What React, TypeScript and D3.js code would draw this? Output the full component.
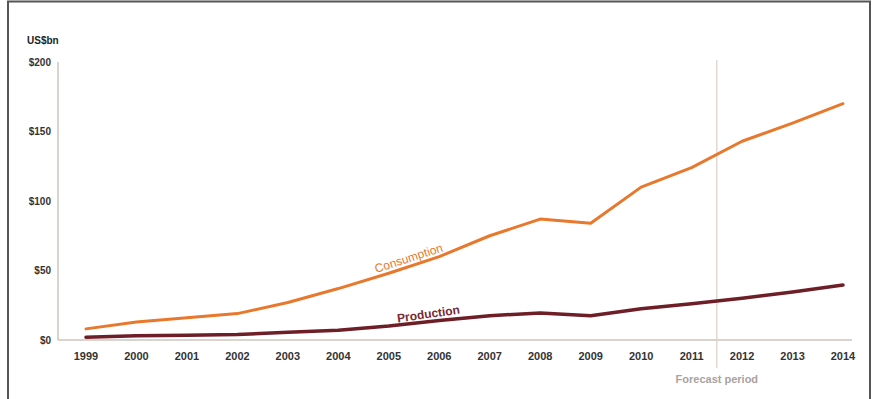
import React from "react";
import * as d3 from "d3";

const years = ["1999","2000","2001","2002","2003","2004","2005","2006","2007","2008","2009","2010","2011","2012","2013","2014"];
const consumption = [8, 13, 16, 19, 27, 37, 48, 60, 75, 87, 84, 110, 124, 143, 156, 170];
const production = [2, 3, 3.5, 4, 5.5, 7, 10, 14, 17.5, 19.5, 17.5, 22.5, 26, 30, 34.5, 39.5];
const yTicks = [0, 50, 100, 150, 200];
const forecastStart = 12.5;

export default function App() {
  const W = 875, H = 399;
  const x = d3.scaleLinear().domain([0, 15]).range([86, 843]);
  const y = d3.scaleLinear().domain([0, 200]).range([340, 62]);
  const line = d3.line<number>().x((_, i) => x(i)).y((d) => y(d));
  const font = "Liberation Sans, Arial, sans-serif";
  return (
    <svg width={W} height={H} style={{ position: "absolute", left: 0, top: 0, background: "#fff" }} fontFamily={font}>
      <rect x={0} y={0} width={W} height={H} fill="#fff" />
      <path d={`M8,${H} L8,1.5 L870,1.5 L870,${H}`} fill="none" stroke="#555" strokeWidth={2} />
      <text x={27} y={44} fontSize={10} fontWeight="bold" fill="#222">US$bn</text>
      <line x1={58} x2={58} y1={y(200)} y2={y(0)} stroke="#cfc4bd" strokeWidth={1.5} />
      <line x1={58} x2={852} y1={y(0)} y2={y(0)} stroke="#cfc4bd" strokeWidth={1.5} />
      {yTicks.map((t) => (
        <text key={t} x={51} y={y(t) + 3.5} fontSize={10} fontWeight="bold" fill="#333" textAnchor="end">${t}</text>
      ))}
      {years.map((yr, i) => (
        <text key={yr} x={x(i)} y={360} fontSize={11} fontWeight="bold" fill="#333" textAnchor="middle">{yr}</text>
      ))}
      <line x1={x(forecastStart)} x2={x(forecastStart)} y1={60} y2={368} stroke="#dccfc8" strokeWidth={1.2} />
      <text x={x(forecastStart)} y={383} fontSize={11} fontWeight="bold" fill="#aaa2a0" textAnchor="middle">Forecast period</text>
      <path d={line(production) || ""} fill="none" stroke="#6e1e26" strokeWidth={3.5} strokeLinejoin="round" strokeLinecap="round" />
      <path d={line(consumption) || ""} fill="none" stroke="#e8782c" strokeWidth={3} strokeLinejoin="round" strokeLinecap="round" />
      <text transform="translate(410,262) rotate(-18)" fontSize={12} fill="#e8782c" textAnchor="middle">Consumption</text>
      <text transform="translate(429,318) rotate(-8)" fontSize={12} fontWeight="bold" fill="#7a2a32" textAnchor="middle">Production</text>
    </svg>
  );
}
